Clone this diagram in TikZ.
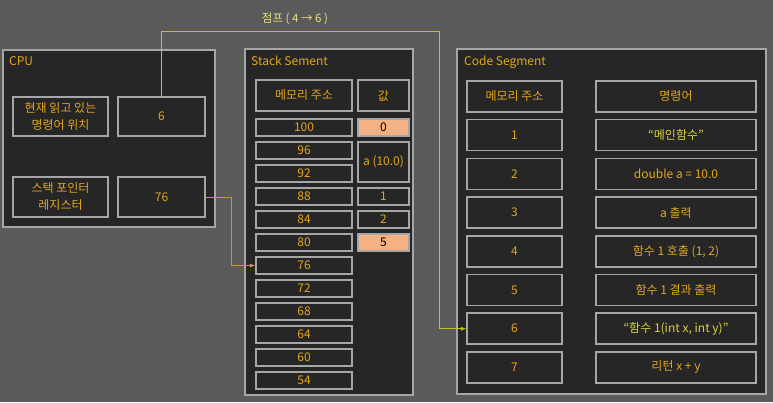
\documentclass[tikz,border=0pt]{standalone}
\usepackage{fontspec}
\setmainfont{Noto Sans CJK KR}
\usepackage{xcolor}
\usepackage{tikz}
\definecolor{bggray}{HTML}{5A5A5A}
\definecolor{panelbg}{HTML}{262626}
\definecolor{edge}{HTML}{A6A6A6}
\definecolor{gold}{RGB}{226,166,30}
\definecolor{quote}{RGB}{222,212,56}
\definecolor{salmon}{HTML}{F4B183}
\definecolor{jumpline}{RGB}{200,192,40}
\definecolor{jumptext}{RGB}{232,226,130}
\definecolor{spline}{RGB}{206,152,30}

\begin{document}
\begin{tikzpicture}[x=1pt,y=-1pt,
  panel/.style={draw=edge, line width=1.5pt, fill=panelbg},
  title/.style={anchor=base west, inner sep=0pt, text=gold, font=\fontsize{12}{14}\selectfont},
  cell/.style={draw=edge, line width=1.5pt, fill=panelbg, text=gold, inner sep=0pt,
    font=\fontsize{12}{17}\selectfont, align=center},
  hot/.style={fill=salmon, text=black}]
\fill[bggray] (0,0) rectangle (773,402);
\useasboundingbox (0,0) rectangle (773,402);

% panels
\draw[panel] (3,50) rectangle (215,227);
\draw[panel] (245,49) rectangle (413,395);
\draw[panel] (457,49) rectangle (766,394);
\node[title] (cputitle) at (9,65) {CPU};
\node[title] (stacktitle) at (251,65) {Stack Sement};
\node[title] (codetitle) at (464,65) {Code Segment};

% CPU
\node[cell, minimum width=95, minimum height=39] (pclabel) at (60.5,116.5) {현재 읽고 있는\\명령어 위치};
\node[cell, minimum width=87, minimum height=39] (pc) at (161.5,116.5) {6};
\node[cell, minimum width=95, minimum height=40] (splabel) at (60.5,197) {스택 포인터\\레지스터};
\node[cell, minimum width=87, minimum height=40] (sp) at (161.5,197) {76};

% stack segment
\node[cell, minimum width=96, minimum height=31] (saddr) at (304,95.5) {메모리 주소};
\node[cell, minimum width=51, minimum height=31] (sval) at (383.5,95.5) {값};
\foreach \a [count=\i from 0] in {100,96,92,88,84,80,76,72,68,64,60,54}
  \node[cell, minimum width=96, minimum height=17] (s\a) at (304,{127.5+23*\i}) {\a};
\node[cell, hot, minimum width=51, minimum height=17] (v0) at (383.5,127.5) {0};
\node[cell, minimum width=51, minimum height=40] (va) at (383.5,162) {a (10.0)};
\node[cell, minimum width=51, minimum height=17] (v1) at (383.5,196.5) {1};
\node[cell, minimum width=51, minimum height=17] (v2) at (383.5,219.5) {2};
\node[cell, hot, minimum width=51, minimum height=17] (v5) at (383.5,242.5) {5};

% code segment
\node[cell, minimum width=95, minimum height=31] (caddr) at (514.5,96.5) {메모리 주소};
\node[cell, minimum width=160, minimum height=31] (cinst) at (676,96.5) {명령어};
\foreach \n in {1,...,7}
  \node[cell, minimum width=95, minimum height=31] (c\n) at (514.5,{96.5+38.7*\n}) {\n};
\node[cell, minimum width=160, minimum height=31, text=quote] (i1) at (676,135.2) {“메인함수”};
\node[cell, minimum width=160, minimum height=31] (i2) at (676,173.9) {double a = 10.0};
\node[cell, minimum width=160, minimum height=31] (i3) at (676,212.6) {a 출력};
\node[cell, minimum width=160, minimum height=31] (i4) at (676,251.3) {함수 1 호출 (1, 2)};
\node[cell, minimum width=160, minimum height=31] (i5) at (676,290) {함수 1 결과 출력};
\node[cell, minimum width=160, minimum height=31, text=quote] (i6) at (676,328.7) {“함수 1(int x, int y)”};
\node[cell, minimum width=160, minimum height=31] (i7) at (676,367.4) {리턴 x + y};

% connectors
\coordinate (jumptop) at (439,31);
\coordinate (spbend) at (231,197);
\draw[jumpline, line width=0.9pt, -latex] (pc.north) |- (jumptop) |- (c6.west);
\node[text=jumptext, font=\fontsize{11.5}{13}\selectfont] (jumplabel) at (295,19) {점프 ( 4 → 6 )};
\draw[spline, line width=0.9pt, -latex] (sp.east) -- (spbend) |- (s76.west);
\end{tikzpicture}
\end{document}
